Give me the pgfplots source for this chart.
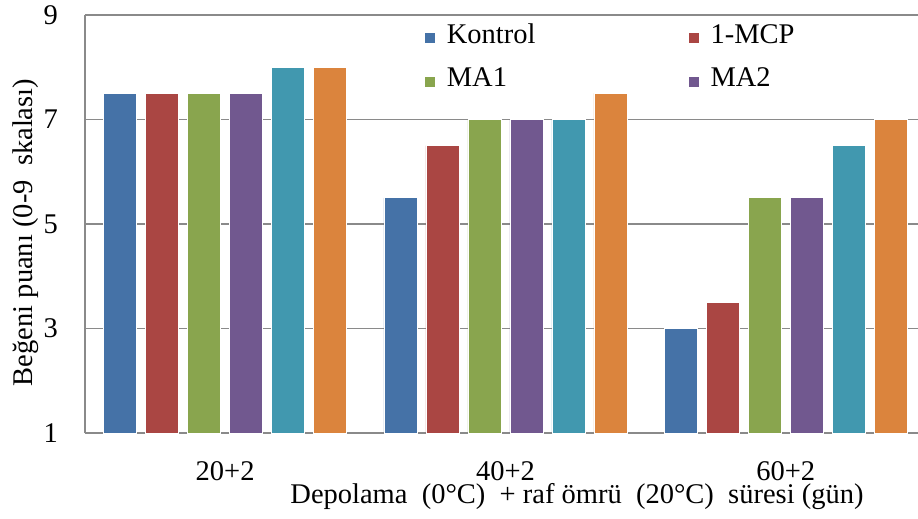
\documentclass[border=0pt]{standalone}
\usepackage{fontspec}
\setmainfont{Liberation Serif}
\newfontfamily\tnr{Liberation Serif}
\usepackage{pgfplots}
\pgfplotsset{compat=1.18}
\definecolor{c1}{HTML}{4572A7}
\definecolor{c2}{HTML}{AA4643}
\definecolor{c3}{HTML}{89A54E}
\definecolor{c4}{HTML}{71588F}
\definecolor{c5}{HTML}{4198AF}
\definecolor{c6}{HTML}{DB843D}
\definecolor{gridc}{HTML}{8A8A8A}
\pgfplotsset{sqlegend/.style={legend image code/.code={\fill[##1, draw=none] (0bp,0bp) rectangle (10bp,10bp);}}}
\newcommand{\bigf}{\tnr\fontsize{28.5bp}{34bp}\selectfont}
\begin{document}
\begin{tikzpicture}
\useasboundingbox (-85bp,-86bp) rectangle (833bp,433bp);
\begin{axis}[
  at={(0,0)}, anchor=south west,
  scale only axis, width=833bp, height=418bp,
  xmin=-0.5, xmax=2.472, ymin=1, ymax=9,
  ytick={1,3,5,7,9},
  xtick={0,1,2}, xticklabels={20+2,40+2,60+2},
  ybar=9bp, bar width=33bp,
  axis lines*=left,
  axis line style={gridc, line width=1.1bp, -},
  ymajorgrids, grid style={gridc, line width=1.1bp},
  major tick length=0pt,
  /pgf/number format/assume math mode=true,
  tick label style={font=\bigf, inner sep=0pt},
  yticklabel style={anchor=east, xshift=-27bp},
  xticklabel style={anchor=north, yshift=-28bp},
  label style={font=\bigf},
  xlabel={Depolama~ (0°C)~ + raf ömrü~ (20°C)~ süresi (gün)},
  xlabel style={at={(axis description cs:0.5906,-0.1675)}, anchor=base, inner sep=0pt},
  ylabel={Beğeni puanı (0-9~ skalası)},
  ylabel style={at={(axis description cs:-0.0636,0.4797)}, anchor=base, inner sep=0pt, rotate=0},
  legend columns=2,
  legend style={at={(axis description cs:0.408,0.9797)}, anchor=north west,
    draw=none, fill=none, inner sep=0pt, outer sep=0pt, row sep=23bp,
    font=\bigf, nodes={inner sep=0pt}, cells={anchor=base west},
    /tikz/every odd column/.append style={column sep=12bp},
    /tikz/every even column/.append style={column sep=153bp}},
]
\addplot[fill=c1, draw=white, line width=0.8bp, sqlegend] coordinates {(0,7.5) (1,5.5) (2,3)};
\addplot[fill=c2, draw=white, line width=0.8bp, sqlegend] coordinates {(0,7.5) (1,6.5) (2,3.5)};
\addplot[fill=c3, draw=white, line width=0.8bp, sqlegend] coordinates {(0,7.5) (1,7) (2,5.5)};
\addplot[fill=c4, draw=white, line width=0.8bp, sqlegend] coordinates {(0,7.5) (1,7) (2,5.5)};
\addplot[fill=c5, draw=white, line width=0.8bp, sqlegend] coordinates {(0,8) (1,7) (2,6.5)};
\addplot[fill=c6, draw=white, line width=0.8bp, sqlegend] coordinates {(0,8) (1,7.5) (2,7)};
\legend{Kontrol,1-MCP,MA1,MA2}
\end{axis}
\end{tikzpicture}
\end{document}
